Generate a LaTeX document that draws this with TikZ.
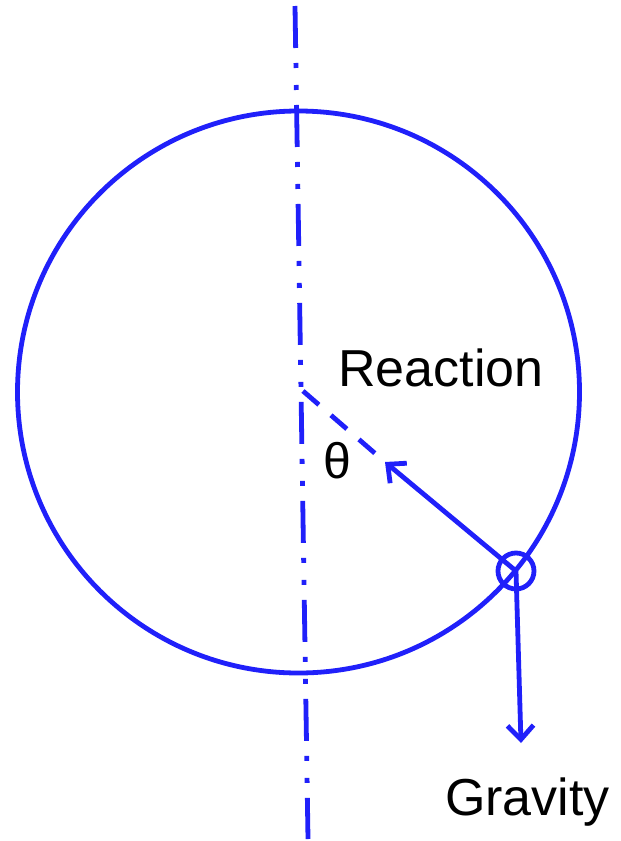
\documentclass[tikz,border=0pt]{standalone}
\usepackage{fontspec}
\setmainfont{Liberation Sans}
\usetikzlibrary{arrows.meta}
\definecolor{lblue}{RGB}{32,32,250}
\begin{document}
\begin{tikzpicture}[x=1pt,y=-1pt,
  bl/.style={draw=lblue,line width=4.8pt},
  lbl/.style={inner sep=0pt,font=\fontsize{52}{60}\selectfont},
  arr/.style={-{Straight Barb[length=14pt,width=26pt,line width=4.8pt]}}]
\useasboundingbox (0,0) rectangle (621,841);
\coordinate (axtop) at (295,6);
\coordinate (axbot) at (308,839);
\coordinate (ctr) at (303,391);
\coordinate (tipR) at (385,462);
\coordinate (P) at (516,571);
\coordinate (tipG) at (521,743);
% big circle
\draw[bl] (298.5,392) circle [radius=281];
% axis (dash-dot-dot)
\draw[bl,dash pattern=on 42pt off 15pt on 5pt off 17pt on 5pt off 15pt] (axtop) -- (axbot);
% dashed radius
\draw[bl,dash pattern=on 21pt off 16pt] (ctr) -- (tipR);
% small circle at contact point
\draw[bl] (P) circle [radius=18];
% reaction arrow
\draw[bl,arr] (P) -- (tipR);
% gravity arrow
\draw[bl,arr] (P) -- (tipG);
% labels
\node[lbl,anchor=base west] (reac) at (338,386) {Reaction};
\node[lbl,anchor=base west] (grav) at (445,815) {Gravity};
\node[inner sep=0pt,font=\fontsize{50}{56}\selectfont,anchor=center] (theta) at (337,461) {θ};
\end{tikzpicture}
\end{document}
